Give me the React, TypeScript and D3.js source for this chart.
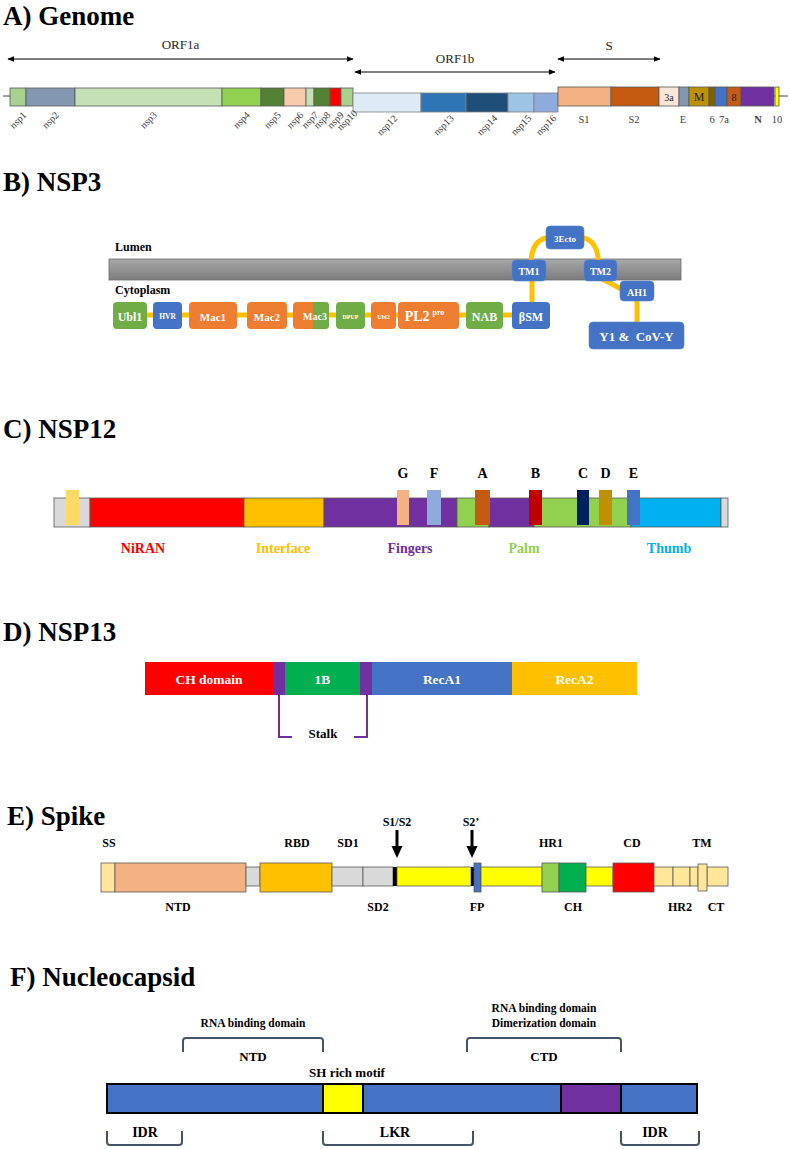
import React from "react";
import * as d3 from "d3";

const W = 790;
const H = 1149;
const SERIF = '"Liberation Serif", "Times New Roman", serif';

// ---------- Panel A: Genome ----------
const orf1aSegs = [
  { name: "nsp1", start: 10, end: 26, color: "#a9d18e" },
  { name: "nsp2", start: 26, end: 75, color: "#8497b0" },
  { name: "nsp3", start: 75, end: 222, color: "#c5e0b4" },
  { name: "nsp4", start: 222, end: 261, color: "#92d050" },
  { name: "nsp5", start: 261, end: 284, color: "#548235" },
  { name: "nsp6", start: 284, end: 306, color: "#f8cbad" },
  { name: "nsp7", start: 306, end: 314, color: "#c5e0b4" },
  { name: "nsp8", start: 314, end: 330, color: "#548235" },
  { name: "nsp9", start: 330, end: 341, color: "#ff0000" },
  { name: "nsp10", start: 341, end: 353, color: "#a9d18e" },
];
const orf1bSegs = [
  { name: "nsp12", start: 353, end: 421, color: "#deebf7" },
  { name: "nsp13", start: 421, end: 466, color: "#2e75b6" },
  { name: "nsp14", start: 466, end: 508, color: "#1f4e79" },
  { name: "nsp15", start: 508, end: 534, color: "#9dc3e6" },
  { name: "nsp16", start: 534, end: 558, color: "#8faadc" },
];
const structSegs = [
  { name: "S1", start: 558, end: 611, color: "#f4b183", inner: "", below: "S1", labelPos: 584 },
  { name: "S2", start: 611, end: 659, color: "#c55a11", inner: "", below: "S2", labelPos: 634 },
  { name: "3a", start: 659, end: 679, color: "#fbe5d6", inner: "3a", below: "", labelPos: 669 },
  { name: "E", start: 679, end: 689, color: "#8497b0", inner: "", below: "E", labelPos: 683 },
  { name: "M", start: 689, end: 709, color: "#bf9000", inner: "M", below: "", labelPos: 699 },
  { name: "6", start: 709, end: 715, color: "#7f6000", inner: "", below: "6", labelPos: 712 },
  { name: "7a", start: 715, end: 727, color: "#4472c4", inner: "", below: "7a", labelPos: 724 },
  { name: "8", start: 727, end: 741, color: "#c55a11", inner: "8", below: "", labelPos: 734 },
  { name: "N", start: 741, end: 774, color: "#7030a0", inner: "", below: "N", labelPos: 758 },
  { name: "10", start: 775, end: 779, color: "#ffff00", inner: "", below: "10", labelPos: 777 },
];
const orfArrows = [
  { label: "ORF1a", from: 8, to: 353, y: 59, labelY: 44 },
  { label: "ORF1b", from: 355, to: 555, y: 72, labelY: 58 },
  { label: "S", from: 558, to: 660, y: 59, labelY: 45 },
];

// ---------- Panel B: NSP3 ----------
const nsp3Cyto = [
  { label: "Ubl1", start: 113, end: 147, color: "#70ad47", fs: 12 },
  { label: "HVR", start: 153, end: 182, color: "#4472c4", fs: 7.5 },
  { label: "Mac1", start: 189, end: 237, color: "#ed7d31", fs: 11 },
  { label: "Mac2", start: 247, end: 287, color: "#ed7d31", fs: 11 },
  { label: "Mac3", start: 293, end: 329, color: "#ed7d31", fs: 10 },
  { label: "DPUP", start: 336, end: 365, color: "#70ad47", fs: 6 },
  { label: "Ubl2", start: 371, end: 396, color: "#ed7d31", fs: 6 },
  { label: "PL2", start: 398, end: 459, color: "#ed7d31", fs: 14 },
  { label: "NAB", start: 466, end: 503, color: "#70ad47", fs: 12 },
  { label: "βSM", start: 512, end: 550, color: "#4472c4", fs: 12 },
];
const nsp3Membrane = [
  { label: "TM1", start: 512, end: 546, top: 260, bottom: 281, fs: 10 },
  { label: "3Ecto", start: 546, end: 584, top: 226, bottom: 249, fs: 9 },
  { label: "TM2", start: 584, end: 617, top: 260, bottom: 281, fs: 10 },
  { label: "AH1", start: 620, end: 654, top: 281, bottom: 301, fs: 10 },
  { label: "Y1 &  CoV-Y", start: 589, end: 684, top: 322, bottom: 349, fs: 13 },
];

// ---------- Panel C: NSP12 ----------
const nsp12Segs = [
  { start: 54, end: 90, color: "#d9d9d9" },
  { start: 90, end: 244, color: "#ff0000" },
  { start: 244, end: 324, color: "#ffc000" },
  { start: 324, end: 457, color: "#7030a0" },
  { start: 457, end: 489, color: "#92d050" },
  { start: 489, end: 534, color: "#7030a0" },
  { start: 534, end: 631, color: "#92d050" },
  { start: 631, end: 721, color: "#00b0f0" },
  { start: 721, end: 728, color: "#d9d9d9" },
];
const nsp12Motifs = [
  { label: "", start: 66, end: 79, color: "#ffd966" },
  { label: "G", start: 397, end: 409, color: "#f4b183" },
  { label: "F", start: 427, end: 441, color: "#8faadc" },
  { label: "A", start: 475, end: 490, color: "#c55a11" },
  { label: "B", start: 529, end: 542, color: "#c00000" },
  { label: "C", start: 577, end: 589, color: "#002060" },
  { label: "D", start: 599, end: 612, color: "#bf9000" },
  { label: "E", start: 627, end: 640, color: "#4472c4" },
];
const nsp12Domains = [
  { label: "NiRAN", pos: 143, color: "#ff0000" },
  { label: "Interface", pos: 283, color: "#ffc000" },
  { label: "Fingers", pos: 410, color: "#7030a0" },
  { label: "Palm", pos: 524, color: "#92d050" },
  { label: "Thumb", pos: 669, color: "#00b0f0" },
];

// ---------- Panel D: NSP13 ----------
const nsp13Segs = [
  { label: "CH domain", start: 145, end: 273, color: "#ff0000" },
  { label: "", start: 273, end: 285, color: "#7030a0" },
  { label: "1B", start: 285, end: 360, color: "#00b050" },
  { label: "", start: 360, end: 372, color: "#7030a0" },
  { label: "RecA1", start: 372, end: 512, color: "#4472c4" },
  { label: "RecA2", start: 512, end: 637, color: "#ffc000" },
];

// ---------- Panel E: Spike ----------
const spikeSegs = [
  { start: 101, end: 115, color: "#ffe699", kind: "thick" },
  { start: 115, end: 246, color: "#f4b183", kind: "thick" },
  { start: 246, end: 260, color: "#d9d9d9", kind: "thin" },
  { start: 260, end: 332, color: "#ffc000", kind: "thick" },
  { start: 332, end: 363, color: "#d9d9d9", kind: "thin" },
  { start: 363, end: 393, color: "#d9d9d9", kind: "thin" },
  { start: 393, end: 397, color: "#000000", kind: "thin" },
  { start: 397, end: 471, color: "#ffff00", kind: "thin" },
  { start: 471, end: 474, color: "#000000", kind: "thin" },
  { start: 474, end: 481, color: "#4472c4", kind: "thick" },
  { start: 481, end: 542, color: "#ffff00", kind: "thin" },
  { start: 542, end: 559, color: "#92d050", kind: "thick" },
  { start: 559, end: 586, color: "#00b050", kind: "thick" },
  { start: 586, end: 613, color: "#ffff00", kind: "thin" },
  { start: 613, end: 654, color: "#ff0000", kind: "thick" },
  { start: 654, end: 673, color: "#ffe699", kind: "thin" },
  { start: 673, end: 690, color: "#ffe699", kind: "thin" },
  { start: 690, end: 698, color: "#ffe699", kind: "thin" },
  { start: 707, end: 728, color: "#ffe699", kind: "thin" },
  { start: 698, end: 707, color: "#ffe699", kind: "tm" },
];
const spikeTop = [
  { label: "SS", pos: 109, y: 843 },
  { label: "RBD", pos: 297, y: 843 },
  { label: "SD1", pos: 348, y: 843 },
  { label: "S1/S2", pos: 397, y: 822 },
  { label: "S2’", pos: 471, y: 822 },
  { label: "HR1", pos: 551, y: 843 },
  { label: "CD", pos: 632, y: 843 },
  { label: "TM", pos: 702, y: 843 },
];
const spikeBottom = [
  { label: "NTD", pos: 178 },
  { label: "SD2", pos: 378 },
  { label: "FP", pos: 477 },
  { label: "CH", pos: 573 },
  { label: "HR2", pos: 680 },
  { label: "CT", pos: 716 },
];
const cleavageSites = [397, 472];

// ---------- Panel F: Nucleocapsid ----------
const nucSegs = [
  { start: 107, end: 323, color: "#4472c4" },
  { start: 323, end: 363, color: "#ffff00" },
  { start: 363, end: 561, color: "#4472c4" },
  { start: 561, end: 621, color: "#7030a0" },
  { start: 621, end: 697, color: "#4472c4" },
];
const nucTopBrackets = [
  { start: 183, end: 323, label: "NTD", notes: ["RNA binding domain"] },
  { start: 467, end: 621, label: "CTD", notes: ["RNA binding domain", "Dimerization domain"] },
];
const nucBottomBrackets = [
  { start: 107, end: 182, label: "IDR", labelPos: 145 },
  { start: 323, end: 473, label: "LKR", labelPos: 395 },
  { start: 621, end: 699, label: "IDR", labelPos: 655 },
];

const titles = [
  { text: "A) Genome", x: 3, y: 25 },
  { text: "B) NSP3", x: 3, y: 191 },
  { text: "C) NSP12", x: 3, y: 438 },
  { text: "D) NSP13", x: 3, y: 641 },
  { text: "E) Spike", x: 7, y: 825 },
  { text: "F) Nucleocapsid", x: 10, y: 986 },
];

export default function App() {
  const x = d3.scaleLinear().domain([0, W]).range([0, W]);
  const mid = (a: number, b: number) => x((a + b) / 2);

  // ---- panel A geometry
  const aLineY = 96;
  const bandA = { top: 88, bottom: 106 };
  const bandB = { top: 93, bottom: 112 };
  const bandS = { top: 87, bottom: 106 };

  // ---- panel B
  const linkerY = 315;
  const cytoTop = 302;
  const cytoBot = 329;
  const yellow = "#ffc000";

  const tm1 = nsp3Membrane[0];
  const ecto = nsp3Membrane[1];
  const tm2 = nsp3Membrane[2];
  const ah1 = nsp3Membrane[3];
  const y1 = nsp3Membrane[4];
  const bsm = nsp3Cyto[nsp3Cyto.length - 1];
  const ectoMid = (ecto.top + ecto.bottom) / 2;
  const path = d3.path();
  const tm1c = mid(tm1.start, tm1.end);
  path.moveTo(tm1c + 2, tm1.top + 5);
  path.bezierCurveTo(tm1c + 2, 248, tm1c + 8, ectoMid, x(ecto.start) + 5, ectoMid);
  const tm2c = mid(tm2.start, tm2.end);
  const path2 = d3.path();
  path2.moveTo(x(ecto.end) - 5, ectoMid);
  path2.bezierCurveTo(tm2c - 8, ectoMid, tm2c - 2, 248, tm2c - 2, tm2.top + 5);

  // ---- panel C
  const cTop = 498, cBot = 527, mTop = 490, mBot = 525;
  // ---- panel D
  const dTop = 662, dBot = 695;
  // ---- panel E
  const eThin = { top: 867, bottom: 886 };
  const eThick = { top: 863, bottom: 892 };
  const eTm = { top: 864, bottom: 891 };
  // ---- panel F
  const fTop = 1084, fBot = 1113;

  const bracketDown = (x0: number, x1: number, yTop: number, yEnd: number) => {
    const r = 3;
    return `M${x0},${yEnd} L${x0},${yTop + r} Q${x0},${yTop} ${x0 + r},${yTop} L${x1 - r},${yTop} Q${x1},${yTop} ${x1},${yTop + r} L${x1},${yEnd}`;
  };
  const bracketUp = (x0: number, x1: number, yBot: number, yEnd: number) => {
    const r = 3;
    return `M${x0},${yEnd} L${x0},${yBot - r} Q${x0},${yBot} ${x0 + r},${yBot} L${x1 - r},${yBot} Q${x1},${yBot} ${x1},${yBot - r} L${x1},${yEnd}`;
  };

  return (
    <svg
      width={W}
      height={H}
      viewBox={`0 0 ${W} ${H}`}
      style={{ position: "absolute", left: 0, top: 0, background: "#fff", fontFamily: SERIF }}
    >
      <defs>
        <marker id="arrA" viewBox="0 0 10 10" refX="9" refY="5" markerWidth="7" markerHeight="7" orient="auto-start-reverse">
          <path d="M0,1 L10,5 L0,9 z" fill="#000" />
        </marker>
        <linearGradient id="memb" x1="0" y1="0" x2="0" y2="1">
          <stop offset="0" stopColor="#a8a8a8" />
          <stop offset="1" stopColor="#7c7c7c" />
        </linearGradient>
      </defs>

      {titles.map((t) => (
        <text key={t.text} x={t.x} y={t.y} fontSize={27} fontWeight="bold" fill="#000">
          {t.text}
        </text>
      ))}

      {/* ===== Panel A ===== */}
      <g>
        <line x1={x(3)} x2={x(788)} y1={aLineY} y2={aLineY} stroke="#404040" strokeWidth={1} />
        {orfArrows.map((a) => (
          <g key={a.label}>
            <line
              x1={x(a.from)}
              x2={x(a.to)}
              y1={a.y}
              y2={a.y}
              stroke="#000"
              strokeWidth={1}
              markerStart="url(#arrA)"
              markerEnd="url(#arrA)"
            />
            <text x={mid(a.from, a.to)} y={a.labelY} fontSize={13} textAnchor="middle" dominantBaseline="central" fill="#262626">
              {a.label}
            </text>
          </g>
        ))}
        {orf1aSegs.map((s) => (
          <rect key={s.name} x={x(s.start)} y={bandA.top} width={x(s.end) - x(s.start)} height={bandA.bottom - bandA.top} fill={s.color} stroke="#595959" strokeWidth={0.8} />
        ))}
        {orf1bSegs.map((s) => (
          <rect key={s.name} x={x(s.start)} y={bandB.top} width={x(s.end) - x(s.start)} height={bandB.bottom - bandB.top} fill={s.color} stroke="#7f7f7f" strokeWidth={0.8} />
        ))}
        {structSegs.map((s) => (
          <rect key={s.name} x={x(s.start)} y={bandS.top} width={x(s.end) - x(s.start)} height={bandS.bottom - bandS.top} fill={s.color} stroke="#595959" strokeWidth={0.8} />
        ))}
        {orf1aSegs.map((s) => (
          <text key={s.name} transform={`translate(${mid(s.start, s.end)},${120}) rotate(-45)`} fontSize={10} textAnchor="middle" dominantBaseline="central" fill="#404040">
            {s.name}
          </text>
        ))}
        {orf1bSegs.map((s) => (
          <text key={s.name} transform={`translate(${mid(s.start, s.end)},${125}) rotate(-45)`} fontSize={10} textAnchor="middle" dominantBaseline="central" fill="#404040">
            {s.name}
          </text>
        ))}
        {structSegs.filter((s) => s.inner).map((s) => (
          <text key={s.name} x={x(s.labelPos)} y={97} fontSize={s.name === "M" ? 12 : 10} textAnchor="middle" dominantBaseline="central" fill="#262626">
            {s.inner}
          </text>
        ))}
        {structSegs.filter((s) => s.below).map((s) => (
          <text key={s.name} x={x(s.labelPos)} y={119} fontSize={10.5} fontWeight={s.name === "N" ? "bold" : "normal"} textAnchor="middle" dominantBaseline="central" fill="#404040">
            {s.below}
          </text>
        ))}
      </g>

      {/* ===== Panel B ===== */}
      <g>
        <text x={115} y={251} fontSize={12} fontWeight="bold">Lumen</text>
        <rect x={x(109)} y={259} width={x(681) - x(109)} height={21} fill="url(#memb)" stroke="#6b6b6b" strokeWidth={0.8} />
        <text x={115} y={294} fontSize={12} fontWeight="bold">Cytoplasm</text>
        <line x1={x(nsp3Cyto[0].start + 5)} x2={x(bsm.start + 5)} y1={linkerY} y2={linkerY} stroke={yellow} strokeWidth={5} />
        <line x1={tm1c + 3} x2={tm1c + 3} y1={tm1.bottom - 2} y2={cytoTop + 2} stroke={yellow} strokeWidth={5} />
        <path d={path.toString()} fill="none" stroke={yellow} strokeWidth={5} />
        <path d={path2.toString()} fill="none" stroke={yellow} strokeWidth={5} />
        <line x1={tm2c} x2={x(ah1.start) + 5} y1={tm2.bottom - 3} y2={(ah1.top + ah1.bottom) / 2} stroke={yellow} strokeWidth={5} />
        <line x1={mid(ah1.start, ah1.end)} x2={mid(ah1.start, ah1.end)} y1={ah1.bottom - 2} y2={y1.top + 2} stroke={yellow} strokeWidth={5} />
        {nsp3Cyto.map((b) => (
          <g key={b.label}>
            <rect x={x(b.start)} y={cytoTop} width={x(b.end) - x(b.start)} height={cytoBot - cytoTop} rx={4} fill={b.color} />
            {b.label === "Mac3" && (
              <g>
                <rect x={x(313)} y={cytoTop} width={x(b.end) - x(313)} height={cytoBot - cytoTop} rx={4} fill="#70ad47" />
                <rect x={x(313)} y={cytoTop} width={5} height={cytoBot - cytoTop} fill="#70ad47" />
              </g>
            )}
            {b.label === "PL2" ? (
              <text x={mid(b.start, b.end) - 4} y={(cytoTop + cytoBot) / 2 + 1} fontSize={14} fontWeight="bold" fill="#fff" textAnchor="middle" dominantBaseline="central">
                PL2
                <tspan fontSize={8} dy={-5} dx={3}>pro</tspan>
              </text>
            ) : (
              <text x={b.label === "Mac3" ? 315 : mid(b.start, b.end)} y={(cytoTop + cytoBot) / 2 + 1} fontSize={b.fs} fontWeight="bold" fill="#fff" textAnchor="middle" dominantBaseline="central">
                {b.label}
              </text>
            )}
          </g>
        ))}
        {nsp3Membrane.map((b) => (
          <g key={b.label}>
            <rect x={x(b.start)} y={b.top} width={x(b.end) - x(b.start)} height={b.bottom - b.top} rx={4} fill="#4472c4" stroke="#5b87d0" strokeWidth={0.6} />
            <text x={mid(b.start, b.end)} y={(b.top + b.bottom) / 2 + 1} fontSize={b.fs} fontWeight="bold" fill="#fff" textAnchor="middle" dominantBaseline="central" style={{ whiteSpace: "pre" }}>
              {b.label}
            </text>
          </g>
        ))}
      </g>

      {/* ===== Panel C ===== */}
      <g>
        {nsp12Segs.map((s, i) => (
          <rect key={i} x={x(s.start)} y={cTop} width={x(s.end) - x(s.start)} height={cBot - cTop} fill={s.color} stroke="#595959" strokeWidth={0.8} />
        ))}
        {nsp12Motifs.map((m, i) => (
          <g key={i}>
            <rect x={x(m.start)} y={mTop} width={x(m.end) - x(m.start)} height={mBot - mTop} fill={m.color} />
            {m.label && (
              <text x={mid(m.start, m.end)} y={473} fontSize={14} fontWeight="bold" textAnchor="middle" dominantBaseline="central">
                {m.label}
              </text>
            )}
          </g>
        ))}
        {nsp12Domains.map((d) => (
          <text key={d.label} x={x(d.pos)} y={548} fontSize={14} fontWeight="bold" fill={d.color} textAnchor="middle" dominantBaseline="central">
            {d.label}
          </text>
        ))}
      </g>

      {/* ===== Panel D ===== */}
      <g>
        {nsp13Segs.map((s, i) => (
          <g key={i}>
            <rect x={x(s.start)} y={dTop} width={x(s.end) - x(s.start)} height={dBot - dTop} fill={s.color} />
            {s.label && (
              <text x={mid(s.start, s.end)} y={(dTop + dBot) / 2 + 1} fontSize={13.5} fontWeight="bold" fill="#fff" textAnchor="middle" dominantBaseline="central">
                {s.label}
              </text>
            )}
          </g>
        ))}
        <path d={`M${x(279)},${dBot} L${x(279)},737 L${x(292)},737`} fill="none" stroke="#7030a0" strokeWidth={2} />
        <path d={`M${x(367)},${dBot} L${x(367)},737 L${x(354)},737`} fill="none" stroke="#7030a0" strokeWidth={2} />
        <text x={x(323)} y={733} fontSize={13} fontWeight="bold" textAnchor="middle" dominantBaseline="central">
          Stalk
        </text>
      </g>

      {/* ===== Panel E ===== */}
      <g>
        {spikeSegs.map((s, i) => {
          const band = s.kind === "thick" ? eThick : s.kind === "tm" ? eTm : eThin;
          return (
            <rect key={i} x={x(s.start)} y={band.top} width={x(s.end) - x(s.start)} height={band.bottom - band.top} fill={s.color} stroke={s.color === "#000000" ? "none" : "#595959"} strokeWidth={0.8} />
          );
        })}
        {cleavageSites.map((c) => (
          <g key={c}>
            <rect x={x(c) - 1.5} y={830} width={3} height={18} fill="#000" />
            <path d={`M${x(c) - 5.5},${846} L${x(c) + 5.5},${846} L${x(c)},${858} Z`} fill="#000" />
          </g>
        ))}
        {spikeTop.map((l) => (
          <text key={l.label} x={x(l.pos)} y={l.y} fontSize={12} fontWeight="bold" textAnchor="middle" dominantBaseline="central">
            {l.label}
          </text>
        ))}
        {spikeBottom.map((l) => (
          <text key={l.label} x={x(l.pos)} y={907} fontSize={12} fontWeight="bold" textAnchor="middle" dominantBaseline="central">
            {l.label}
          </text>
        ))}
      </g>

      {/* ===== Panel F ===== */}
      <g>
        {nucTopBrackets.map((b) => (
          <g key={b.label}>
            <path d={bracketDown(x(b.start), x(b.end), 1038, 1052)} fill="none" stroke="#44546a" strokeWidth={2} />
            <text x={mid(b.start, b.end)} y={1056} fontSize={13} fontWeight="bold" textAnchor="middle" dominantBaseline="central">
              {b.label}
            </text>
            {b.notes.map((n, i) => (
              <text key={i} x={mid(b.start, b.end)} y={1023 - (b.notes.length - 1 - i) * 15} fontSize={11.5} fontWeight="bold" textAnchor="middle" dominantBaseline="central">
                {n}
              </text>
            ))}
          </g>
        ))}
        <text x={x(347)} y={1072} fontSize={13} fontWeight="bold" textAnchor="middle" dominantBaseline="central">
          SH rich motif
        </text>
        {nucSegs.map((s, i) => (
          <rect key={i} x={x(s.start)} y={fTop} width={x(s.end) - x(s.start)} height={fBot - fTop} fill={s.color} stroke="#000" strokeWidth={2} />
        ))}
        {nucBottomBrackets.map((b, i) => (
          <g key={i}>
            <path d={bracketUp(x(b.start), x(b.end), 1145, 1131)} fill="none" stroke="#44546a" strokeWidth={2} />
            <text x={x(b.labelPos)} y={1132} fontSize={14} fontWeight="bold" textAnchor="middle" dominantBaseline="central">
              {b.label}
            </text>
          </g>
        ))}
      </g>
    </svg>
  );
}
